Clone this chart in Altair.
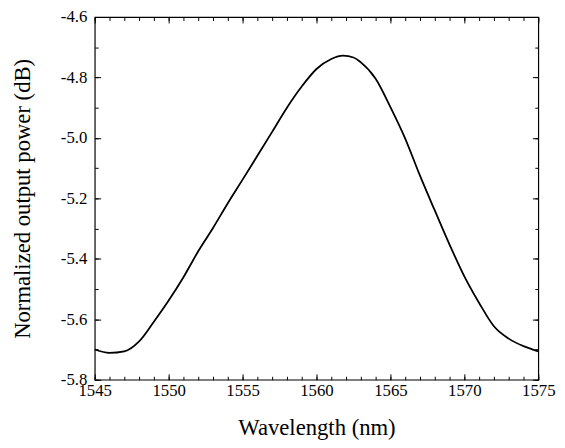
import altair as alt
import pandas as pd

wavelength = [1545, 1546, 1547, 1548, 1549, 1550, 1551, 1552, 1553, 1554,
              1555, 1556, 1557, 1558, 1559, 1560, 1561, 1561.8, 1562.5, 1563,
              1564, 1565, 1566, 1567, 1568, 1569, 1570, 1571, 1572, 1573,
              1574, 1575]
power = [-5.700, -5.711, -5.706, -5.673, -5.608, -5.538, -5.461, -5.375, -5.298, -5.216,
         -5.138, -5.059, -4.980, -4.900, -4.830, -4.772, -4.739, -4.728, -4.734, -4.750,
         -4.804, -4.898, -5.002, -5.125, -5.240, -5.353, -5.458, -5.546, -5.623, -5.664,
         -5.689, -5.706]

x_major = [1545, 1550, 1555, 1560, 1565, 1570, 1575]
x_minor = list(range(1545, 1576))
y_major = [-5.8, -5.6, -5.4, -5.2, -5.0, -4.8, -4.6]
y_minor = [-5.8, -5.7, -5.6, -5.5, -5.4, -5.3, -5.2, -5.1, -5.0, -4.9, -4.8, -4.7, -4.6]

df = pd.DataFrame({"wl": wavelength, "p": power})

FONT = "Liberation Serif"
xs = alt.Scale(domain=[1545, 1575], nice=False, zero=False)
ys = alt.Scale(domain=[-5.8, -4.6], nice=False, zero=False)

base = alt.Chart(df)

label_expr = "(datum.value < 0 ? '-' : '') + format(abs(datum.value), '.1f')"

main = base.mark_line(color="black", strokeWidth=1.8, interpolate="monotone").encode(
    x=alt.X("wl:Q", scale=xs, title="Wavelength (nm)",
            axis=alt.Axis(orient="bottom", values=x_major, ticks=False, tickSize=0,
                          domain=False, grid=False, labelPadding=3, format="d",
                          labelFlush=False, labelOverlap=False,
                          labelFont=FONT, labelFontSize=17, labelColor="black",
                          titleFont=FONT, titleFontSize=23, titleFontWeight="normal",
                          titleColor="black", titlePadding=19)),
    y=alt.Y("p:Q", scale=ys, title="Normalized output power (dB)",
            axis=alt.Axis(orient="left", values=y_major, ticks=False, tickSize=0,
                          domain=False, grid=False, labelPadding=8, labelExpr=label_expr,
                          labelFlush=False, labelOverlap=False,
                          labelFont=FONT, labelFontSize=17, labelColor="black",
                          titleFont=FONT, titleFontSize=23, titleFontWeight="normal",
                          titleColor="black", titlePadding=26)),
)


def tick_layer(xorient, yorient, xvals, yvals, size):
    return base.mark_line(strokeOpacity=0).encode(
        x=alt.X("wl:Q", scale=xs, title=None,
                axis=alt.Axis(orient=xorient, values=xvals, labels=False, domain=False,
                              grid=False, ticks=True, tickSize=size, offset=-size,
                              tickColor="black", tickWidth=1)),
        y=alt.Y("p:Q", scale=ys, title=None,
                axis=alt.Axis(orient=yorient, values=yvals, labels=False, domain=False,
                              grid=False, ticks=True, tickSize=size, offset=-size,
                              tickColor="black", tickWidth=1)),
    )


chart = alt.layer(
    main,
    tick_layer("bottom", "left", x_major, y_major, 6),
    tick_layer("bottom", "left", x_minor, y_minor, 3.5),
    tick_layer("top", "right", x_major, y_major, 6),
    tick_layer("top", "right", x_minor, y_minor, 3.5),
).resolve_axis(x="independent", y="independent").properties(
    width=450, height=368,
    autosize=alt.AutoSizeParams(type="none"),
    padding={"left": 88, "top": 6, "right": 19, "bottom": 58},
    background="white",
).configure_view(stroke="black", strokeWidth=1.2)

chart.save("out.html", embed_options={"renderer": "svg", "actions": False})
